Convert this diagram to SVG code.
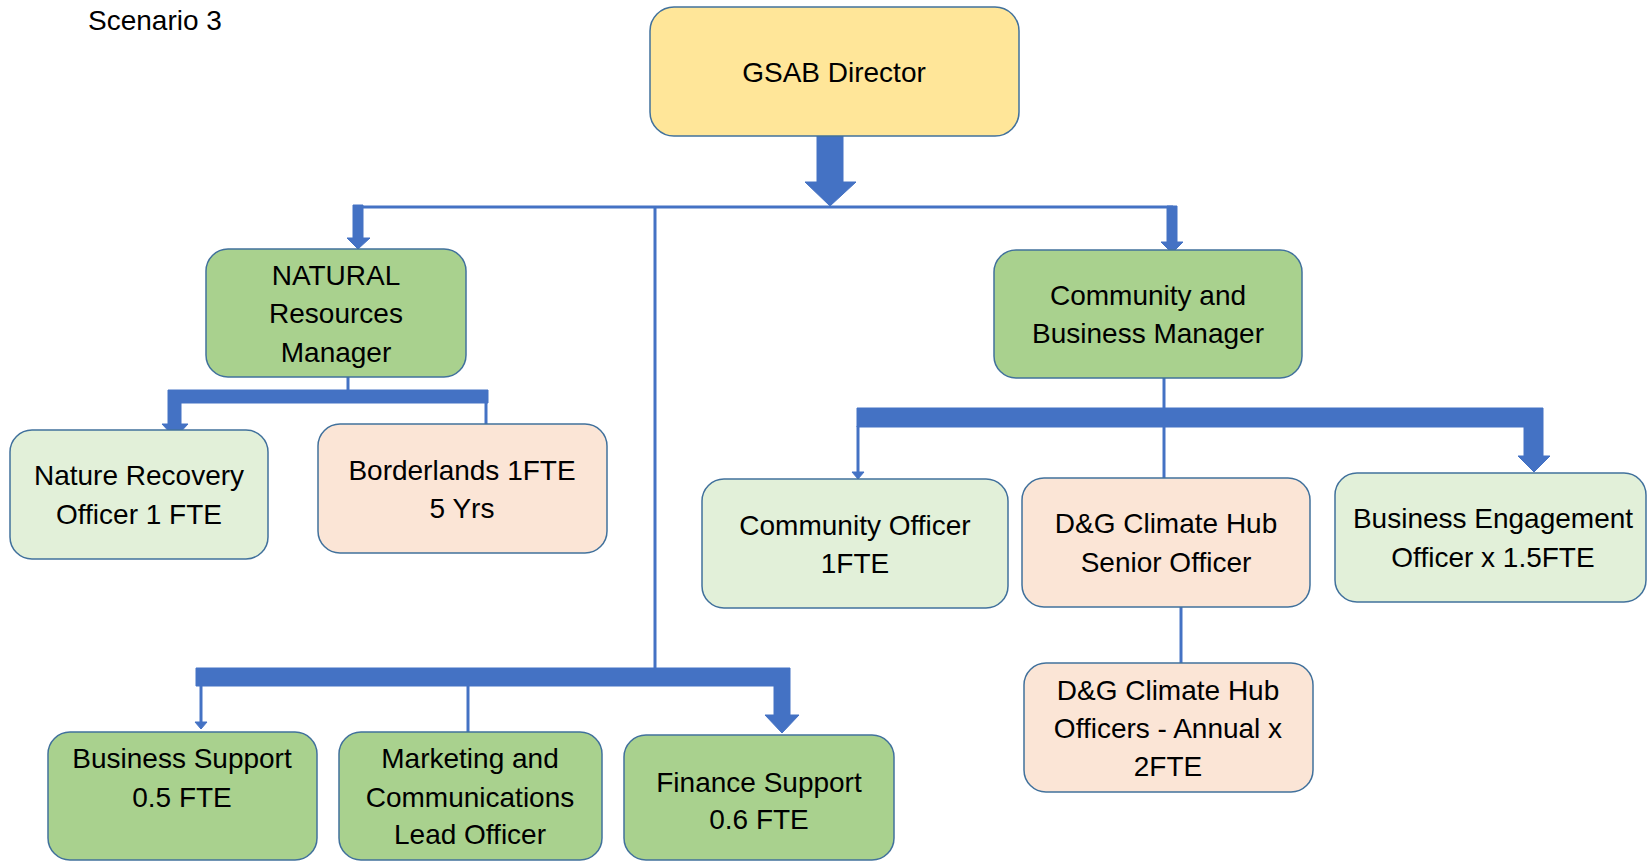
<svg xmlns="http://www.w3.org/2000/svg" width="1647" height="861" viewBox="0 0 1647 861">
<style>
.box{stroke:#41719c;stroke-width:1.5}
.dir{fill:#ffe699}
.mg{fill:#a9d18e}
.lg{fill:#e2f0d9}
.pk{fill:#fbe5d6}
text{font-family:"Liberation Sans",Arial,sans-serif;font-size:28px;fill:#000;text-anchor:middle}
.ln{stroke:#4472c4;stroke-width:3;fill:none}
.ar{fill:#4472c4;stroke:#4472c4;stroke-width:1}
</style>
<rect width="1647" height="861" fill="#fff"/>
<text x="88" y="30" style="text-anchor:start">Scenario 3</text>
<g id="connectors">
<polygon class="ar" points="817,136 843,136 843,182 856,182 830,206 805,182 817,182"/>
<line class="ln" x1="356" y1="207" x2="1173" y2="207"/>
<line class="ln" x1="655" y1="206" x2="655" y2="669"/>
<polygon class="ar" points="353,205 363,205 363,238 370,238 358,249 347,238 353,238"/>
<polygon class="ar" points="1167,206 1177,206 1177,242 1183,242 1172,253 1161,242 1167,242"/>
<line class="ln" x1="348" y1="377" x2="348" y2="391"/>
<polygon class="ar" points="168,390 488,390 488,403 181,403 181,424 188,424 175,438 162,424 168,424"/>
<line class="ln" x1="486" y1="402" x2="486" y2="424"/>
<line class="ln" x1="1164" y1="373" x2="1164" y2="409"/>
<polygon class="ar" points="857,408 1543,408 1543,456 1550,456 1534,472 1518,456 1524,456 1524,427 857,427"/>
<line class="ln" x1="858" y1="426" x2="858" y2="473"/>
<polygon class="ar" points="852,472 864,472 858,479"/>
<line class="ln" x1="1164" y1="426" x2="1164" y2="478"/>
<line class="ln" x1="1181" y1="607" x2="1181" y2="663"/>
<polygon class="ar" points="196,668 790,668 790,715 799,715 782,733 765,715 774,715 774,686 196,686"/>
<line class="ln" x1="201" y1="685" x2="201" y2="722"/>
<polygon class="ar" points="195,722 207,722 201,729"/>
<line class="ln" x1="468" y1="685" x2="468" y2="732"/>
</g>
<g id="director">
<rect class="box dir" x="650" y="7" width="369" height="129" rx="24"/>
<text x="834" y="82">GSAB Director</text>
</g>
<g id="natural">
<rect class="box mg" x="206" y="249" width="260" height="128" rx="22"/>
<text x="336" y="285">NATURAL</text>
<text x="336" y="323">Resources</text>
<text x="336" y="362">Manager</text>
</g>
<g id="nature">
<rect class="box lg" x="10" y="430" width="258" height="129" rx="22"/>
<text x="139" y="485">Nature Recovery</text>
<text x="139" y="524">Officer 1 FTE</text>
</g>
<g id="borderlands">
<rect class="box pk" x="318" y="424" width="289" height="129" rx="22"/>
<text x="462" y="480">Borderlands 1FTE</text>
<text x="462" y="518">5 Yrs</text>
</g>
<g id="cbmanager">
<rect class="box mg" x="994" y="250" width="308" height="128" rx="22"/>
<text x="1148" y="305">Community and</text>
<text x="1148" y="343">Business Manager</text>
</g>
<g id="community">
<rect class="box lg" x="702" y="479" width="306" height="129" rx="22"/>
<text x="855" y="535">Community Officer</text>
<text x="855" y="573">1FTE</text>
</g>
<g id="dgsenior">
<rect class="box pk" x="1022" y="478" width="288" height="129" rx="22"/>
<text x="1166" y="533">D&amp;G Climate Hub</text>
<text x="1166" y="572">Senior Officer</text>
</g>
<g id="bizeng">
<rect class="box lg" x="1335" y="473" width="311" height="129" rx="22"/>
<text x="1493" y="528">Business Engagement</text>
<text x="1493" y="567">Officer x 1.5FTE</text>
</g>
<g id="dgofficers">
<rect class="box pk" x="1024" y="663" width="289" height="129" rx="22"/>
<text x="1168" y="700">D&amp;G Climate Hub</text>
<text x="1168" y="738">Officers - Annual x</text>
<text x="1168" y="776">2FTE</text>
</g>
<g id="bizsupport">
<rect class="box mg" x="48" y="732" width="269" height="128" rx="22"/>
<text x="182" y="768">Business Support</text>
<text x="182" y="807">0.5 FTE</text>
</g>
<g id="marketing">
<rect class="box mg" x="339" y="732" width="263" height="128" rx="22"/>
<text x="470" y="768">Marketing and</text>
<text x="470" y="807">Communications</text>
<text x="470" y="844">Lead Officer</text>
</g>
<g id="finance">
<rect class="box mg" x="624" y="735" width="270" height="125" rx="22"/>
<text x="759" y="792">Finance Support</text>
<text x="759" y="829">0.6 FTE</text>
</g>
</svg>
